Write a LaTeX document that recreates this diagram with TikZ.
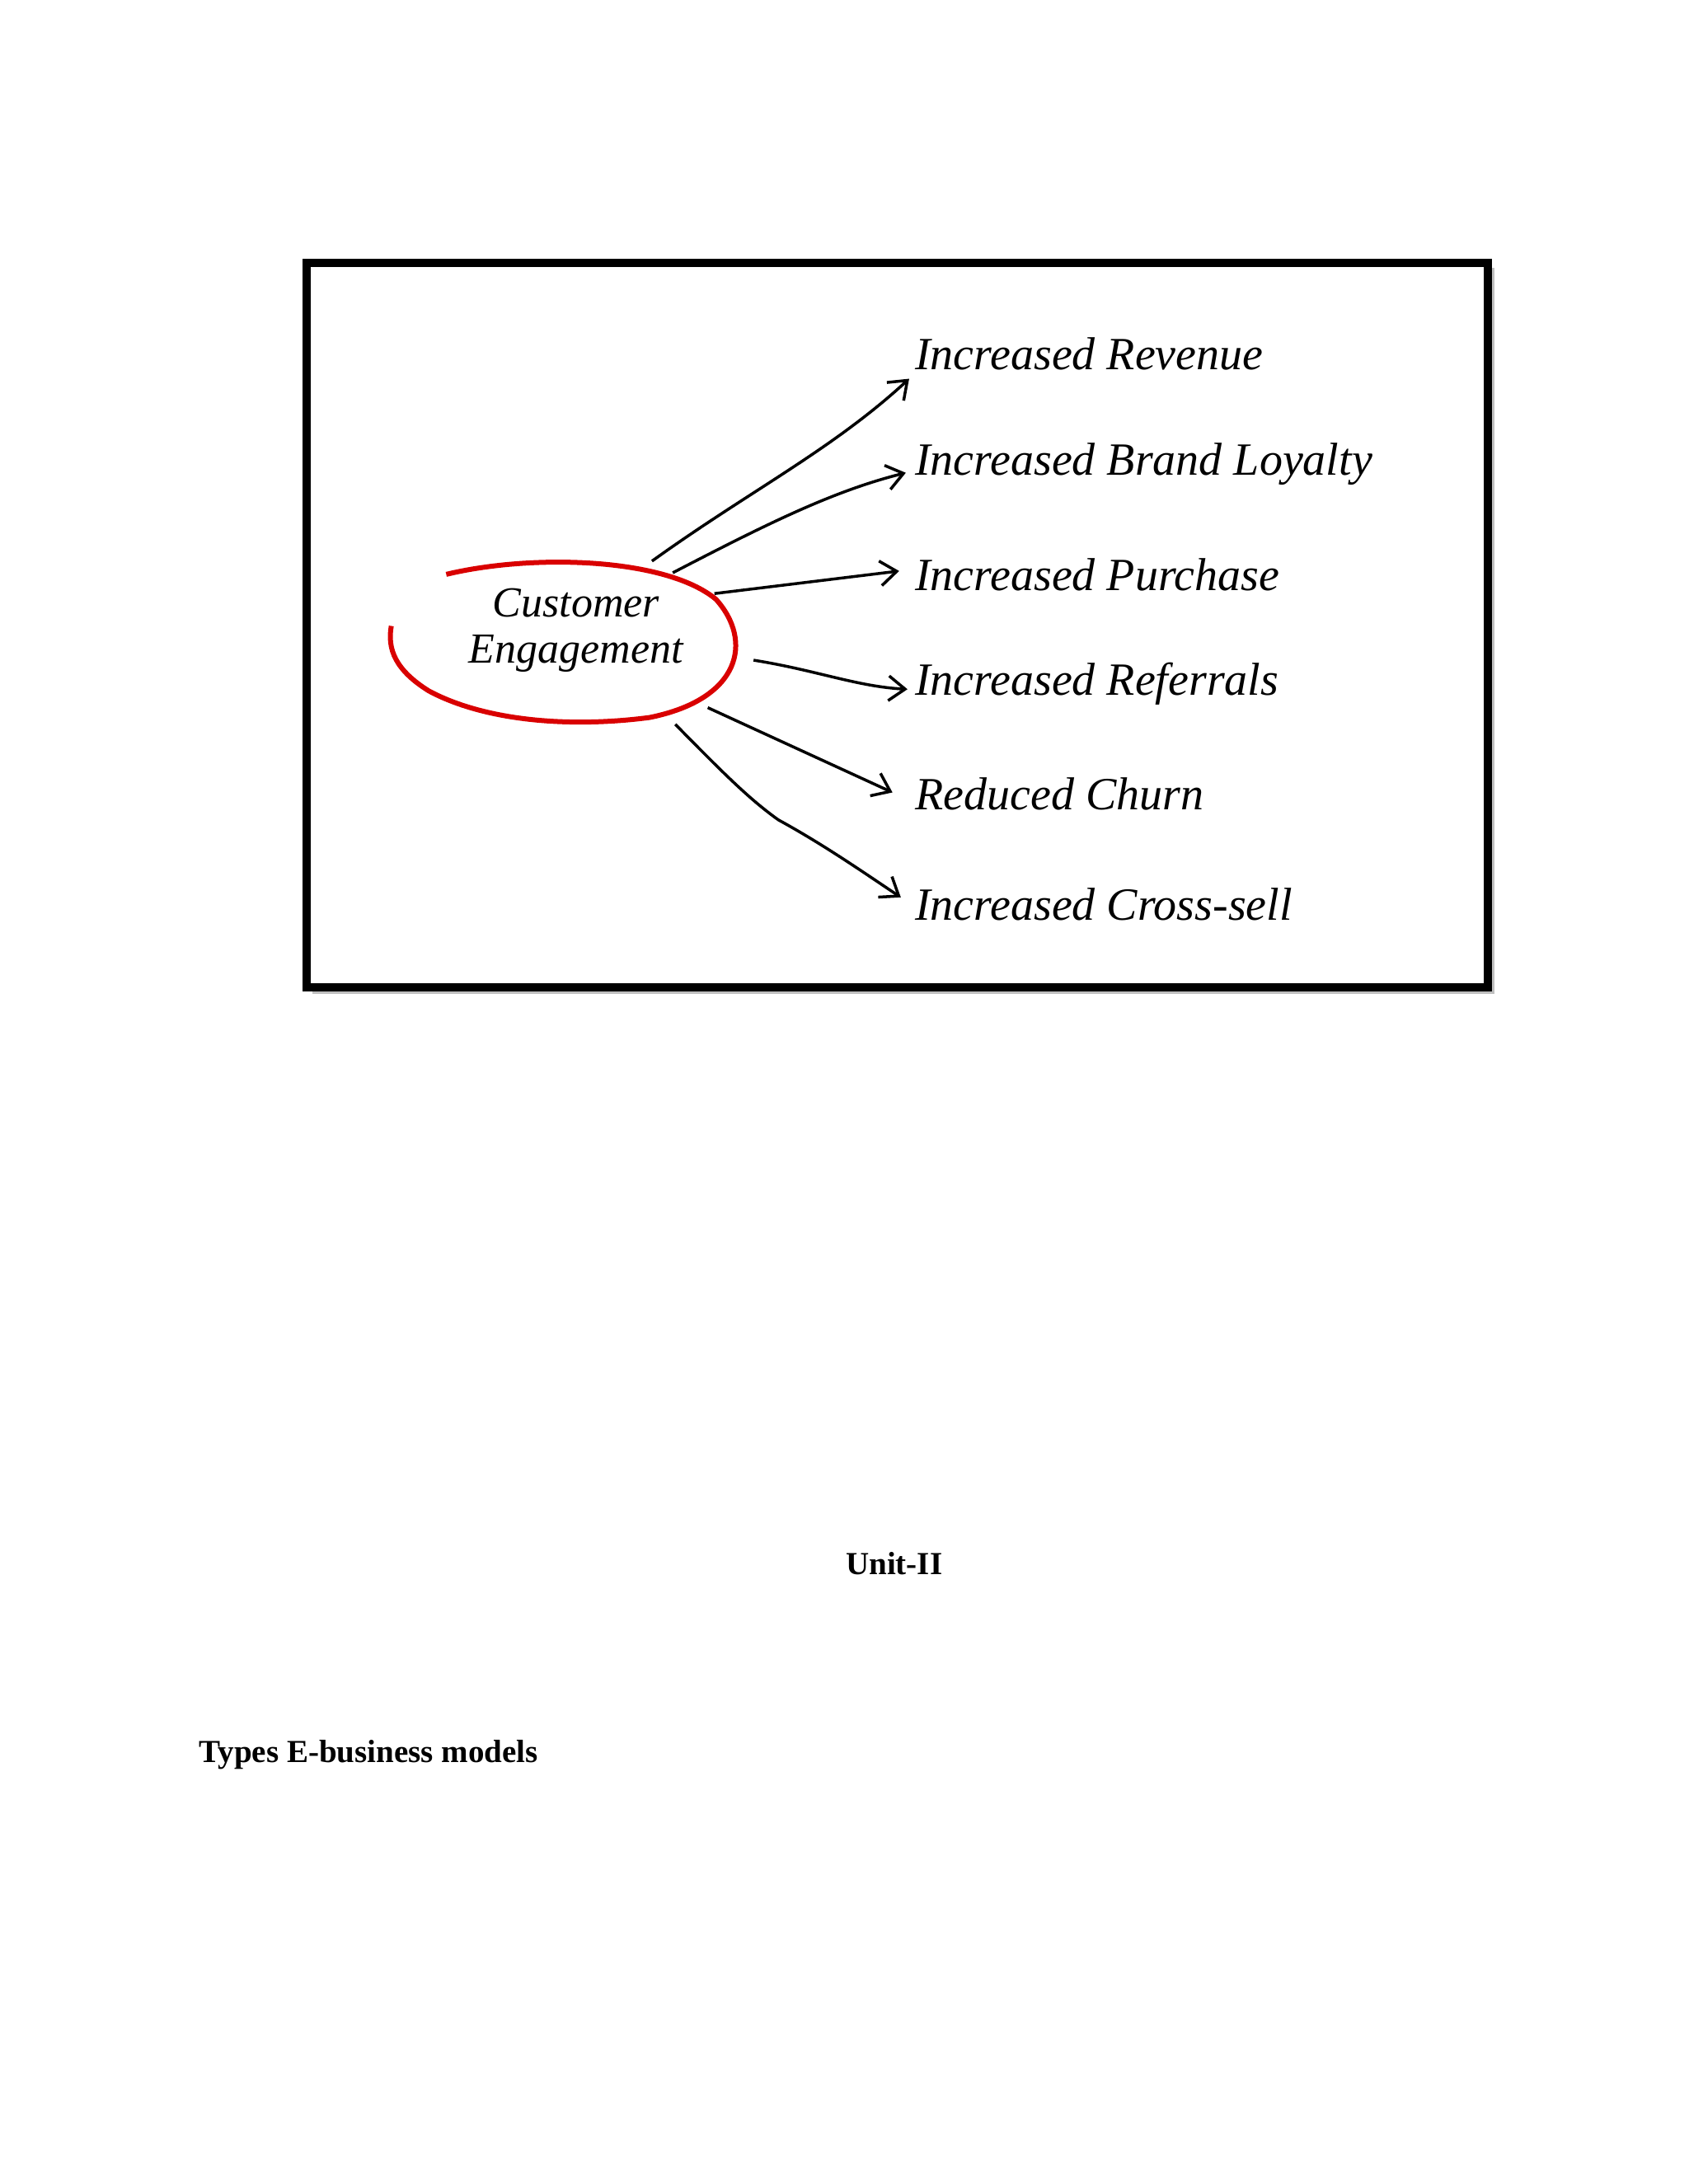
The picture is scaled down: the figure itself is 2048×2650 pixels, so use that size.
\documentclass[tikz,border=0pt]{standalone}
\usepackage{fontspec}
\setmainfont{Liberation Serif}
\usetikzlibrary{arrows.meta}
\begin{document}
\begin{tikzpicture}[x=1pt,y=-1pt,
 lbl/.style={anchor=west,font=\fontsize{56}{62}\selectfont\itshape,inner sep=0},
 arr/.style={line width=3.5pt,-{Straight Barb[length=20pt,width=30pt,line width=3.5pt]}},
 hd/.style={font=\fontsize{39}{44}\selectfont\bfseries,inner sep=0}]
\useasboundingbox (0,0) rectangle (2048,2650);
\begin{scope}[scale=1.01]
\fill[gray!50] (375,322) rectangle (1795,1194);
\draw[line width=10pt,fill=white] (368,316) rectangle (1787,1186);
\node[lbl] (t1) at (1099,425) {Increased Revenue};
\node[lbl] (t2) at (1099,558) {Increased Brand Loyalty};
\node[lbl] (t3) at (1099,690) {Increased Purchase};
\node[lbl] (t4) at (1099,822) {Increased Referrals};
\node[lbl] (t5) at (1099,954) {Reduced Churn};
\node[lbl] (t6) at (1099,1086) {Increased Cross-sell};
\node[align=center,font=\fontsize{52}{56}\selectfont\itshape] (ce) at (692,757) {Customer\\Engagement};
\draw[red!85!black,line width=6pt] (536,690) .. controls (640,665) and (800,670) .. (860,720)
 .. controls (905,770) and (890,840) .. (780,862) .. controls (680,875) and (580,865) .. (515,830)
 .. controls (475,805) and (465,780) .. (470,752);
\coordinate (s1) at (783,674); \coordinate (s2) at (808,688); \coordinate (s3) at (858,713);
\coordinate (s4) at (905,793); \coordinate (s5) at (850,850); \coordinate (s6) at (811,870);
\draw[arr] (s1) .. controls (900,590) and (1000,540) .. (1092,455);
\draw[arr] (s2) .. controls (920,630) and (1000,590) .. (1088,568);
\draw[arr] (s3) -- (1080,686);
\draw[arr] (s4) .. controls (980,805) and (1030,825) .. (1090,828);
\draw[arr] (s5) -- (1072,952);
\draw[arr] (s6) .. controls (870,930) and (900,960) .. (935,985) .. controls (990,1015) and (1040,1050) .. (1082,1078);
\node[hd] (u) at (1074,1878) {Unit-II};
\node[hd,anchor=west] (ty) at (239,2108) {Types E-business models};
\end{scope}
\end{tikzpicture}
\end{document}
